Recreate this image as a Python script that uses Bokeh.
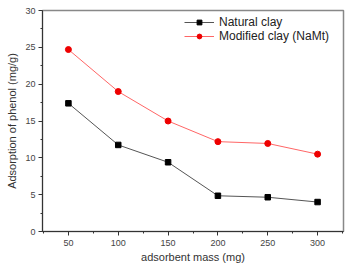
from bokeh.plotting import figure
from bokeh.embed import file_html
from bokeh.resources import INLINE
from bokeh.models import Legend, LegendItem, FixedTicker, Range1d

mass = [50, 100, 150, 200, 250, 300]
natural = [17.4, 11.75, 9.4, 4.85, 4.65, 4.0]
modified = [24.7, 19.0, 15.0, 12.2, 11.95, 10.5]
x_ticks = [50, 100, 150, 200, 250, 300]
y_ticks = [0, 5, 10, 15, 20, 25, 30]

p = figure(width=348, height=267, output_backend="svg", toolbar_location=None,
           x_range=Range1d(24, 326), y_range=Range1d(0, 30),
           min_border_left=42, min_border_right=5, min_border_top=10, min_border_bottom=36)
p.background_fill_color = "white"
p.border_fill_color = "white"
p.outline_line_color = "#888888"
p.outline_line_width = 1.5
p.xgrid.visible = False
p.ygrid.visible = False

r1 = p.line(mass, natural, line_color="#555555", line_width=1)
s1 = p.scatter(mass, natural, marker="square", size=5.5, fill_color="black", line_color="black")
r2 = p.line(mass, modified, line_color="#ff6666", line_width=1)
s2 = p.scatter(mass, modified, marker="circle", size=6, fill_color="#ee0000", line_color="#ee0000")

for ax in (p.xaxis[0], p.yaxis[0]):
    ax.major_tick_in = 0
    ax.major_tick_out = 4
    ax.minor_tick_in = 0
    ax.minor_tick_out = 2
    ax.axis_line_color = "#333333"
    ax.major_tick_line_color = "#333333"
    ax.minor_tick_line_color = "#333333"
    ax.major_label_text_font = "Liberation Sans"
    ax.major_label_text_font_size = "9px"
    ax.major_label_text_color = "#444444"
    ax.axis_label_text_font = "Liberation Sans"
    ax.axis_label_text_font_size = "11px"
    ax.axis_label_text_font_style = "normal"
    ax.axis_label_text_color = "#333333"

p.xaxis[0].ticker = FixedTicker(ticks=x_ticks, minor_ticks=[25, 75, 125, 175, 225, 275, 325])
p.yaxis[0].ticker = FixedTicker(ticks=y_ticks, minor_ticks=[2.5, 7.5, 12.5, 17.5, 22.5, 27.5])
p.xaxis[0].axis_label = "adsorbent mass (mg)"
p.yaxis[0].axis_label = "Adsorption of phenol (mg/g)"
p.xaxis[0].axis_label_standoff = 2
p.yaxis[0].axis_label_standoff = 4
p.xaxis[0].major_label_standoff = 4
p.yaxis[0].major_label_standoff = 3

legend = Legend(items=[LegendItem(label="Natural clay", renderers=[r1, s1]),
                       LegendItem(label="Modified clay (NaMt)", renderers=[r2, s2])],
                location=(142, 188), border_line_color=None, background_fill_alpha=0,
                label_text_font="Liberation Sans", label_text_font_size="12px",
                label_text_color="#222222", glyph_width=30, glyph_height=12,
                spacing=-2, padding=4, margin=0, label_standoff=5, label_height=12)
p.add_layout(legend)

open("out.html", "w").write(file_html(p, INLINE))
